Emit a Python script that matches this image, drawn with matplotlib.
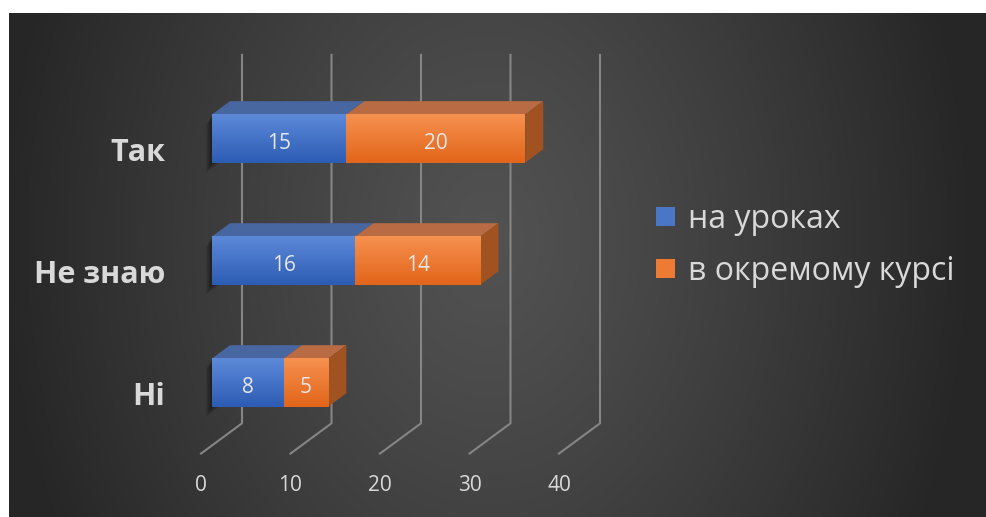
import numpy as np
import matplotlib.pyplot as plt
from matplotlib.patches import Polygon, Rectangle
from matplotlib.colors import LinearSegmentedColormap

plt.rcParams['font.family'] = ['Open Sans', 'DejaVu Sans']

# data
categories = ['Ні', 'Не знаю', 'Так']
na_urokakh = [8, 16, 15]
v_okremomu_kursi = [5, 14, 20]
series_names = ['на уроках', 'в окремому курсі']
ticks = [0, 10, 20, 30, 40]

W, H = 986, 517
PX_X = 8.95      # px per value unit
PX_Y = 122.0     # px per category step
X0, Y0 = 212, 382.5

# depth offsets (in value units) of floor front, bar back and back wall
DZ_FLOOR = -11 / PX_X
DZ_BACK = 18 / PX_X
DZ_WALL = 30 / PX_X
K = 0.738 * PX_X / PX_Y
Y_FLOOR, Y_TOP = -0.516, 2.504
HALF = 0.197

TEXT = '#d9d9d9'


def proj(v, y, dz):
    return (v + dz, y + dz * K)


def px2data(px, py):
    return (px - X0) / PX_X, (Y0 - py) / PX_Y


fig = plt.figure(figsize=(W / 100, H / 100), dpi=100)
fig.patch.set_facecolor('white')

# dark radial background
bg = fig.add_axes([9 / W, 0, (W - 9) / W, (H - 13) / H])
gx = np.linspace(-1, 1, 500)
gy = np.linspace(-1, 1, 260)
XX, YY = np.meshgrid(gx, gy)
r = np.clip(np.sqrt((XX + 0.02) ** 2 + 0.15 * (YY + 0.1) ** 2), 0, 1)
shade = (82 - 44 * r ** 1.2) / 255
bg.imshow(np.dstack([shade, shade, shade]), aspect='auto',
          extent=[0, 1, 0, 1], interpolation='bilinear')
bg.axis('off')

ax = fig.add_axes([0, 0, 1, 1])
ax.patch.set_visible(False)
ax.axis('off')
xlim = (-X0 / PX_X, (W - X0) / PX_X)
ylim = ((Y0 - H) / PX_Y, Y0 / PX_Y)

# gridlines on the back wall and floor
for t in ticks:
    pts = [proj(t, Y_TOP, DZ_WALL), proj(t, Y_FLOOR, DZ_WALL), proj(t, Y_FLOOR, DZ_FLOOR)]
    ax.plot([p[0] for p in pts], [p[1] for p in pts], color='#858585', lw=1.5,
            solid_joinstyle='miter', zorder=1)
    ax.text(t + DZ_FLOOR, -0.889, str(t), ha='center', va='baseline',
            fontsize=15, color=TEXT)

front_maps = [
    LinearSegmentedColormap.from_list('blue', ['#2c5cb4', '#5d89d8']),
    LinearSegmentedColormap.from_list('orange', ['#e2651a', '#f6914f']),
]
top_colors = ['#48669f', '#b96c43']
side_color = '#a05320'
grad = np.linspace(0, 1, 64).reshape(-1, 1)

series = [na_urokakh, v_okremomu_kursi]
for i, cat in enumerate(categories):
    # soft shadow left of the bar end
    for s in range(1, 5):
        off = -0.16 * s
        poly = [proj(0, i + HALF, DZ_BACK), proj(0, i + HALF, 0),
                proj(0, i - HALF, 0), proj(0, i - HALF, DZ_BACK)]
        poly = [(x + off, y - 0.02 * s) for x, y in poly]
        ax.add_patch(Polygon(poly, closed=True, facecolor='black', edgecolor='none',
                             alpha=0.13, zorder=2))
    left = 0
    for k, vals in enumerate(series):
        v = vals[i]
        right = left + v
        ax.imshow(grad, cmap=front_maps[k], origin='lower', aspect='auto',
                  extent=[left, right, i - HALF, i + HALF], zorder=4,
                  interpolation='bilinear')
        top = [proj(left, i + HALF, 0), proj(right, i + HALF, 0),
               proj(right, i + HALF, DZ_BACK), proj(left, i + HALF, DZ_BACK)]
        ax.add_patch(Polygon(top, closed=True, facecolor=top_colors[k],
                             edgecolor='none', zorder=3))
        ax.text((left + right) / 2, i - 0.082, str(v), ha='center', va='baseline',
                fontsize=15, color='#e8e8e8', zorder=6)
        left = right
    side = [proj(left, i + HALF, 0), proj(left, i + HALF, DZ_BACK),
            proj(left, i - HALF, DZ_BACK), proj(left, i - HALF, 0)]
    ax.add_patch(Polygon(side, closed=True, facecolor=side_color,
                         edgecolor='none', zorder=3))
    ax.text(-5.25, i - 0.184, cat, ha='right', va='baseline', fontsize=22,
            fontweight='bold', color=TEXT)

# legend
legend_colors = ['#4a76c6', '#ee7b34']
for k, name in enumerate(series_names):
    base = 228 + 52 * k
    sx, sy = px2data(656, base - 2)
    ex, ey = px2data(675, base - 21)
    ax.add_patch(Rectangle((sx, sy), ex - sx, ey - sy, facecolor=legend_colors[k],
                           edgecolor='none'))
    tx, ty = px2data(688, base)
    ax.text(tx, ty, name, ha='left', va='baseline', fontsize=23, color=TEXT)

ax.set_xlim(*xlim)
ax.set_ylim(*ylim)

fig.savefig('out.png', dpi=100, facecolor='white')
